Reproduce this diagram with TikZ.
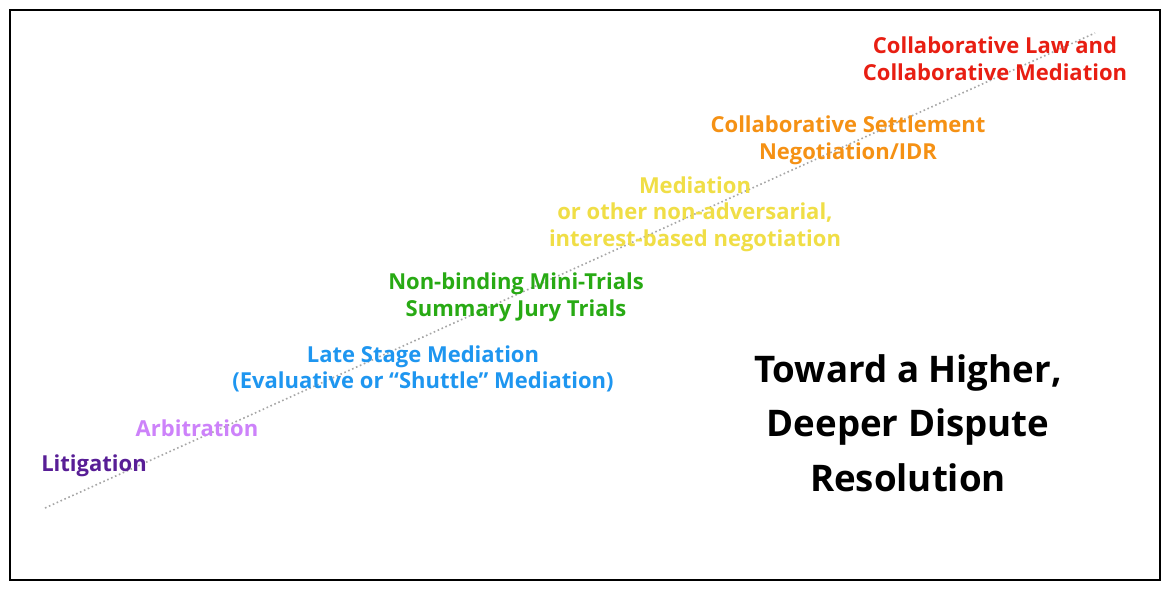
\documentclass[tikz,border=0pt]{standalone}
\usepackage{fontspec}
\setmainfont{Open Sans}
\begin{document}
\begin{tikzpicture}[x=0.75pt,y=-0.75pt,
  lab/.style={font=\fontsize{16.5}{20}\selectfont\bfseries,align=center,inner sep=0pt},
  ttl/.style={font=\fontsize{27.5}{41}\selectfont\bfseries,align=center,inner sep=0pt}]
\definecolor{cred}{RGB}{232,30,18}
\definecolor{corange}{RGB}{245,145,20}
\definecolor{cyellow}{RGB}{240,222,70}
\definecolor{cgreen}{RGB}{40,170,20}
\definecolor{cblue}{RGB}{30,150,240}
\definecolor{clav}{RGB}{205,130,250}
\definecolor{cpurple}{RGB}{88,30,150}
\useasboundingbox (0,0) rectangle (1170,592);
\fill[white] (0,0) rectangle (1170,592);
\draw[line width=1.5pt] (10,10) rectangle (1160,580);
\coordinate (s) at (45,508);
\coordinate (e) at (1095,33);
\draw[gray!70,dotted,line width=1.2pt] (s) -- (e);
\node[lab,text=cred] (a) at (995,59) {Collaborative Law and\\Collaborative Mediation};
\node[lab,text=corange] (b) at (848,140) {Collaborative Settlement\\Negotiation/IDR};
\node[lab,text=cyellow] (c) at (695,214) {Mediation\\or other non-adversarial,\\interest-based negotiation};
\node[lab,text=cgreen] (d) at (516,297) {Non-binding Mini-Trials\\Summary Jury Trials};
\node[lab,text=cblue] (f) at (423,369) {Late Stage Mediation\\(Evaluative or “Shuttle” Mediation)};
\node[lab,text=clav] (g) at (197,428) {Arbitration};
\node[lab,text=cpurple] (h) at (94,466) {Litigation};
\node[ttl] (t) at (908,423) {Toward a Higher,\\Deeper Dispute\\Resolution};
\end{tikzpicture}
\end{document}
